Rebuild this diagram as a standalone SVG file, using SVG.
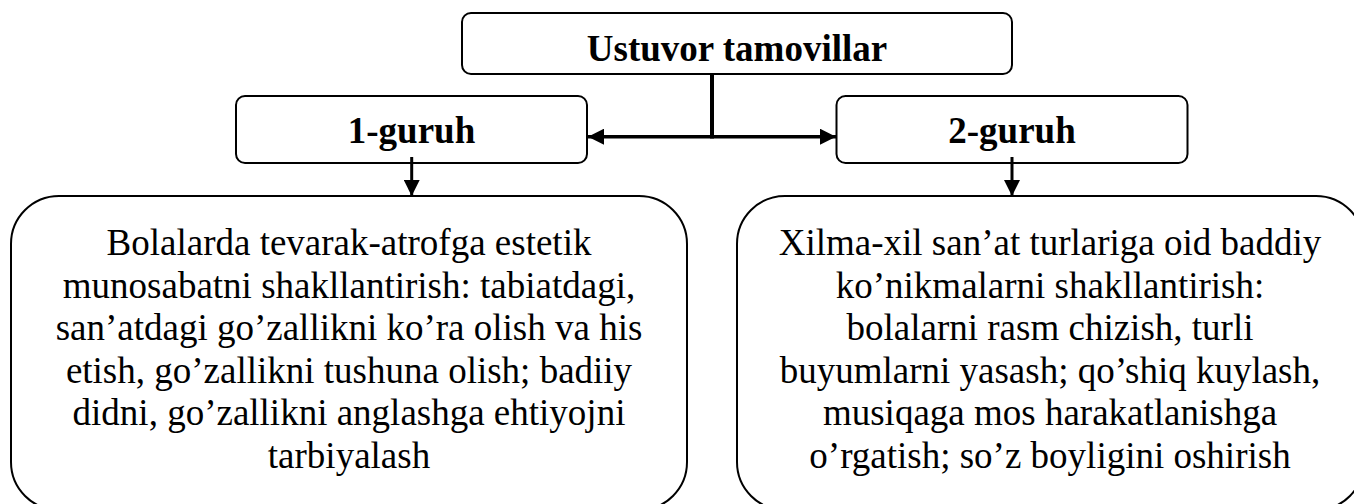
<svg xmlns="http://www.w3.org/2000/svg" width="1354" height="504" viewBox="0 0 1354 504">
<style>
.box{fill:#fff;stroke:#000;stroke-width:2}
.h{font-family:'Liberation Serif','DejaVu Serif','Noto Serif',serif;font-weight:bold;font-size:37px;fill:#000;text-anchor:middle}
.t{font-family:'Liberation Serif','DejaVu Serif','Noto Serif',serif;font-size:37px;fill:#000;text-anchor:middle}
.c{stroke:#000;fill:none}
</style>
<defs>
<marker id="ah" markerUnits="userSpaceOnUse" markerWidth="16" markerHeight="16" viewBox="0 0 16 16" refX="16" refY="8" orient="auto-start-reverse">
<path d="M0,0 L16,8 L0,16 Z" fill="#000"/>
</marker>
</defs>
<g id="top">
<rect class="box" x="462" y="13" width="550" height="61" rx="9"/>
<text class="h" x="737" y="61" font-family="Liberation Serif, serif">Ustuvor tamovillar</text>
</g>
<g id="g1">
<rect class="box" x="236" y="96" width="351" height="67" rx="9"/>
<text class="h" x="411.5" y="143" font-family="Liberation Serif, serif">1-guruh</text>
</g>
<g id="g2">
<rect class="box" x="836.5" y="96" width="351" height="67" rx="9"/>
<text class="h" x="1012" y="143" font-family="Liberation Serif, serif">2-guruh</text>
</g>
<g id="d1">
<rect class="box" x="11" y="196" width="676" height="314" rx="48"/>
<text class="t" x="349" font-family="Liberation Serif, serif"><tspan x="349" y="255">Bolalarda tevarak-atrofga estetik</tspan><tspan x="349" y="297.6">munosabatni shakllantirish: tabiatdagi,</tspan><tspan x="349" y="340.2">san’atdagi go’zallikni ko’ra olish va his</tspan><tspan x="349" y="382.8">etish, go’zallikni tushuna olish; badiiy</tspan><tspan x="349" y="425.4">didni, go’zallikni anglashga ehtiyojni</tspan><tspan x="349" y="468">tarbiyalash</tspan></text>
</g>
<g id="d2">
<rect class="box" x="737" y="196" width="627" height="314" rx="48"/>
<text class="t" x="1050" font-family="Liberation Serif, serif"><tspan x="1050" y="255">Xilma-xil san’at turlariga oid baddiy</tspan><tspan x="1050" y="297.6">ko’nikmalarni shakllantirish:</tspan><tspan x="1050" y="340.2">bolalarni rasm chizish, turli</tspan><tspan x="1050" y="382.8">buyumlarni yasash; qo’shiq kuylash,</tspan><tspan x="1050" y="425.4">musiqaga mos harakatlanishga</tspan><tspan x="1050" y="468">o’rgatish; so’z boyligini oshirish</tspan></text>
</g>
<g id="connectors">
<line class="c" x1="712" y1="74" x2="712" y2="138.5" stroke-width="4"/>
<line class="c" x1="588" y1="136.7" x2="836" y2="136.7" stroke-width="3.5" marker-start="url(#ah)" marker-end="url(#ah)"/>
<line class="c" x1="411.7" y1="157" x2="411.7" y2="196" stroke-width="3" marker-end="url(#ah)"/>
<line class="c" x1="1012" y1="157" x2="1012" y2="196" stroke-width="3" marker-end="url(#ah)"/>
</g>
</svg>
